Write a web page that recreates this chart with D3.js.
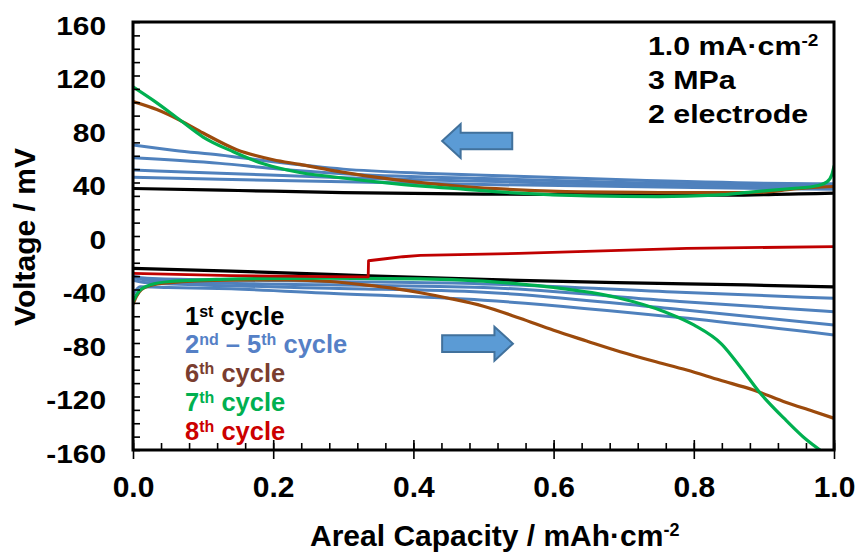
<!DOCTYPE html>
<html>
<head>
<meta charset="utf-8">
<script src="https://cdn.jsdelivr.net/npm/d3@7"></script>
<style>
  html, body { margin: 0; padding: 0; background: #fff; }
  svg { display: block; }
</style>
</head>
<body>
<svg id="chart" width="861" height="552"></svg>
<script>
// ---- axis ticks ----
const capacityTicks = [0.0, 0.2, 0.4, 0.6, 0.8, 1.0];
const voltageTicks = [160, 120, 80, 40, 0, -40, -80, -120, -160];

// ---- voltage profiles: [areal capacity (mAh/cm2), voltage (mV)] ----
const cycle1Upper = [[0, 35.5], [0.15, 34], [0.3, 32.5], [0.5, 31.3], [0.7, 30.8], [0.85, 30.5], [0.95, 31.5], [1.0, 32]];
const cycle1Lower = [[0, -24.2], [0.14, -26.2], [0.28, -28.7], [0.5, -32.5], [0.69, -34.9], [0.875, -36.6], [1.0, -38]];

const cycle2Upper = [[0, 68], [0.06, 64], [0.124, 60.6], [0.2, 55.5], [0.3, 50], [0.41, 47], [0.5, 45.5], [0.7, 42], [0.9, 39.5], [1.0, 39]];
const cycle3Upper = [[0, 58.5], [0.124, 54.3], [0.2, 50.5], [0.3, 46.5], [0.5, 43], [0.7, 40], [0.9, 38], [1.0, 37.5]];
const cycle4Upper = [[0, 49.3], [0.124, 47], [0.3, 43.5], [0.5, 41], [0.7, 38.5], [0.9, 37], [1.0, 36.5]];
const cycle5Upper = [[0, 44], [0.124, 42.4], [0.3, 40.5], [0.5, 38.5], [0.7, 37], [0.9, 35.5], [1.0, 35]];

const cycle2Lower = [[0, -30], [0.02, -31.5], [0.14, -32.9], [0.28, -34], [0.5, -35.8], [0.78, -42], [1.0, -46.6]];
const cycle3Lower = [[0, -31], [0.02, -33], [0.14, -35.4], [0.28, -36.5], [0.5, -38.5], [0.78, -49], [1.0, -56.6]];
const cycle4Lower = [[0, -33], [0.02, -35], [0.14, -37.2], [0.28, -39.1], [0.5, -42], [0.78, -55], [1.0, -66.5]];
const cycle5Lower = [[0, -44], [0.01, -38], [0.05, -38.5], [0.14, -39.5], [0.28, -42.8], [0.5, -48], [0.78, -61], [1.0, -74]];

const cycle6Upper = [[0, 100.5], [0.034, 94.5], [0.067, 86.5], [0.1, 77], [0.148, 64.5], [0.2, 57], [0.238, 53.5], [0.281, 49.3], [0.376, 41.9], [0.471, 36.9], [0.55, 34.5], [0.638, 33], [0.75, 32.5], [0.856, 32.4], [0.9, 32.8], [0.94, 35], [0.97, 36.4], [1.0, 37]];
const cycle6Lower = [[0, -51], [0.005, -45], [0.012, -40], [0.025, -37], [0.05, -35], [0.138, -33], [0.22, -32.8], [0.281, -34], [0.33, -36.5], [0.376, -39.5], [0.41, -42.4], [0.45, -46.5], [0.5, -52.5], [0.552, -61.5], [0.6, -70.5], [0.647, -78.5], [0.695, -86.5], [0.742, -93.5], [0.79, -100.2], [0.837, -107.7], [0.885, -115.1], [0.932, -124.5], [0.97, -131], [1.0, -136.3]];

const cycle7Upper = [[0, 111.5], [0.03, 101], [0.067, 86.7], [0.1, 74], [0.143, 63], [0.186, 54], [0.238, 47.5], [0.281, 44.5], [0.376, 39], [0.471, 35], [0.55, 32], [0.65, 30], [0.75, 29.5], [0.83, 30.5], [0.885, 33], [0.94, 35.5], [0.97, 37], [0.99, 40.5], [0.997, 46], [1.0, 52]];
const cycle7Lower = [[0, -49], [0.005, -44], [0.01, -40.4], [0.025, -36.5], [0.053, -34], [0.124, -32.4], [0.267, -31.5], [0.41, -32], [0.5, -33.8], [0.55, -35.8], [0.6, -38.5], [0.69, -46], [0.76, -57], [0.8, -66.5], [0.84, -81], [0.865, -97], [0.894, -117], [0.932, -138], [0.96, -152], [0.98, -160]];

const cycle8Lower = [[0, -28], [0.14, -29.7], [0.28, -30.4], [0.3355, -30.6], [0.336, -18.5], [0.36, -17], [0.385, -15.5], [0.41, -14.5], [0.55, -13], [0.79, -9.2], [1.0, -8]];

// ---- series styling ----
const seriesList = [
  { data: cycle1Upper, color: "#000000", width: 3.2 },
  { data: cycle1Lower, color: "#000000", width: 3.2 },
  { data: cycle2Upper, color: "#4F81BD", width: 3 },
  { data: cycle3Upper, color: "#4F81BD", width: 3 },
  { data: cycle4Upper, color: "#4F81BD", width: 3 },
  { data: cycle5Upper, color: "#4F81BD", width: 3 },
  { data: cycle2Lower, color: "#4F81BD", width: 3 },
  { data: cycle3Lower, color: "#4F81BD", width: 3 },
  { data: cycle4Lower, color: "#4F81BD", width: 3 },
  { data: cycle5Lower, color: "#4F81BD", width: 3 },
  { data: cycle6Upper, color: "#9C4A0C", width: 3.2 },
  { data: cycle6Lower, color: "#9C4A0C", width: 3.2 },
  { data: cycle7Upper, color: "#00B050", width: 3.2 },
  { data: cycle7Lower, color: "#00B050", width: 3.2 },
  { data: cycle8Lower, color: "#C00000", width: 2.8, linear: true }
];

// legend entries: text pieces (superscript flag) and colour
const legendEntries = [
  { parts: [["1", false], ["st", true], [" cycle", false]], color: "#000000" },
  { parts: [["2", false], ["nd", true], [" \u2013 5", false], ["th", true], [" cycle", false]], color: "#5580C6" },
  { parts: [["6", false], ["th", true], [" cycle", false]], color: "#7A3D2F" },
  { parts: [["7", false], ["th", true], [" cycle", false]], color: "#00B050" },
  { parts: [["8", false], ["th", true], [" cycle", false]], color: "#CC0000" }
];

// test conditions note
const conditionLines = [
  [["1.0 mA\u00B7cm", false], ["-2", true]],
  [["3 MPa", false]],
  [["2 electrode", false]]
];

// direction arrows: from tail to tip, at a voltage level
const directionArrows = [
  { tail: 0.541, tip: 0.441, level: 71 },
  { tail: 0.441, tip: 0.542, level: -80.5 }
];

// ---- layout ----
const FONT = "'Liberation Sans', Arial, Helvetica, sans-serif";
const plot = { left: 133, right: 834, top: 22, bottom: 450 };

const svg = d3.select("#chart");
svg.append("rect").attr("width", 861).attr("height", 552).attr("fill", "#fff");

const x = d3.scaleLinear().domain([0, 1]).range([plot.left, plot.right]);
const y = d3.scaleLinear().domain([-160, 160]).range([plot.bottom, plot.top]);

svg.append("defs").append("clipPath").attr("id", "plotClip")
  .append("rect")
  .attr("x", plot.left).attr("y", plot.top)
  .attr("width", plot.right - plot.left).attr("height", plot.bottom - plot.top);

// ---- curves ----
const curves = svg.append("g").attr("clip-path", "url(#plotClip)");
seriesList.forEach(s => {
  const line = d3.line()
    .x(d => x(d[0]))
    .y(d => y(d[1]))
    .curve(s.linear ? d3.curveLinear : d3.curveMonotoneX);
  curves.append("path")
    .datum(s.data)
    .attr("d", line)
    .attr("fill", "none")
    .attr("stroke", s.color)
    .attr("stroke-width", s.width)
    .attr("stroke-linejoin", "round")
    .attr("stroke-linecap", "round");
});

// ---- axes ----
// y minor ticks (inward)
svg.append("g")
  .attr("transform", `translate(${plot.left},0)`)
  .call(d3.axisLeft(y).tickValues(d3.range(-160, 161, 10)).tickSize(-7).tickFormat(""))
  .call(g => g.select(".domain").remove())
  .selectAll("line").attr("stroke", "#000").attr("stroke-width", 1.6);

// y labels
const yLab = svg.append("g")
  .attr("transform", `translate(${plot.left},0)`)
  .call(d3.axisLeft(y).tickValues(voltageTicks).tickSize(0).tickPadding(27).tickFormat(d => String(d)));
yLab.select(".domain").remove();
yLab.selectAll("text")
  .attr("x", null).attr("dy", null)
  .attr("transform", "translate(-27,12) scale(1.15,1)")
  .attr("font-family", FONT).attr("font-weight", "bold")
  .attr("font-size", 26).attr("fill", "#000");

// x minor ticks (inward)
svg.append("g")
  .attr("transform", `translate(0,${plot.bottom})`)
  .call(d3.axisBottom(x).tickValues(d3.range(0, 1.0001, 0.04)).tickSize(-7).tickFormat(""))
  .call(g => g.select(".domain").remove())
  .selectAll("line").attr("stroke", "#000").attr("stroke-width", 1.6);

// x major ticks (crossing) and labels
const xAx = svg.append("g")
  .attr("transform", `translate(0,${plot.bottom})`)
  .call(d3.axisBottom(x).tickValues(capacityTicks).tickSize(9).tickPadding(17).tickFormat(d3.format(".1f")));
xAx.select(".domain").remove();
xAx.selectAll("line").attr("y1", -10).attr("stroke", "#000").attr("stroke-width", 1.6);
xAx.selectAll("text")
  .attr("font-family", FONT).attr("font-weight", "bold")
  .attr("font-size", 30).attr("fill", "#000");

// frame
svg.append("rect")
  .attr("x", plot.left).attr("y", plot.top)
  .attr("width", plot.right - plot.left).attr("height", plot.bottom - plot.top)
  .attr("fill", "none").attr("stroke", "#000").attr("stroke-width", 3);

// ---- axis titles ----
const xTitle = svg.append("text")
  .attr("x", 310).attr("y", 546)
  .attr("font-family", FONT).attr("font-weight", "bold").attr("font-size", 30).attr("fill", "#000");
xTitle.append("tspan").text("Areal Capacity / mAh\u00B7cm");
xTitle.append("tspan").attr("font-size", 18).attr("dy", -10).text("-2");

svg.append("text")
  .attr("transform", "translate(35,237) rotate(-90)")
  .attr("text-anchor", "middle")
  .attr("font-family", FONT).attr("font-weight", "bold").attr("font-size", 30).attr("fill", "#000")
  .text("Voltage / mV");

// ---- rich text helper (superscripts) ----
function richText(parent, parts, size, supSize, supShift) {
  const t = parent.append("text")
    .attr("font-family", FONT).attr("font-weight", "bold").attr("font-size", size);
  let raised = false;
  parts.forEach(([str, sup]) => {
    const ts = t.append("tspan").text(str);
    if (sup) ts.attr("font-size", supSize);
    if (sup && !raised) { ts.attr("dy", -supShift); raised = true; }
    else if (!sup && raised) { ts.attr("dy", supShift); raised = false; }
  });
  return t;
}

// conditions note (top right)
const noteBaselines = [55, 88.5, 122.5];
conditionLines.forEach((parts, i) => {
  const g = svg.append("g").attr("transform", `translate(648,${noteBaselines[i]}) scale(1.19,1)`);
  richText(g, parts, 25.5, 16, 9).attr("fill", "#000");
});

// legend (lower left)
const legendBaselines = [325, 353, 382, 411, 440];
legendEntries.forEach((e, i) => {
  const g = svg.append("g").attr("transform", `translate(185,${legendBaselines[i]})`);
  richText(g, e.parts, 25.5, 16, 8).attr("fill", e.color);
});

// ---- direction arrows ----
const headLen = 18.5, headHalf = 17, shaftHalf = 8.3;
directionArrows.forEach(a => {
  const tx = x(a.tip), sx = x(a.tail), cy = y(a.level);
  const dir = Math.sign(sx - tx);
  const hb = tx + dir * headLen;
  const pts = [
    [tx, cy], [hb, cy - headHalf], [hb, cy - shaftHalf], [sx, cy - shaftHalf],
    [sx, cy + shaftHalf], [hb, cy + shaftHalf], [hb, cy + headHalf]
  ];
  svg.append("path")
    .attr("d", d3.line()(pts) + "Z")
    .attr("fill", "#5B9BD5")
    .attr("stroke", "#41719C")
    .attr("stroke-width", 2)
    .attr("stroke-linejoin", "miter");
});
</script>
</body>
</html>
